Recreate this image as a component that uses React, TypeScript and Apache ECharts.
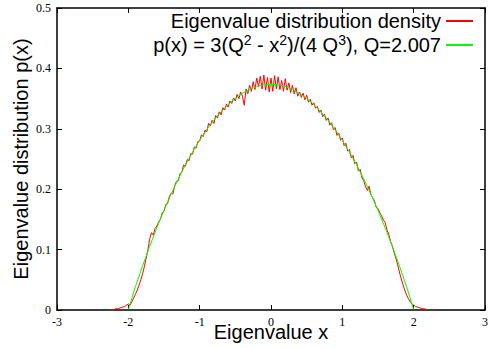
import React, { useEffect, useRef } from "react";
import * as echarts from "echarts";

// Axis ranges / ticks
const X_MIN = -3;
const X_MAX = 3;
const X_INTERVAL = 1;
const Y_MIN = 0;
const Y_MAX = 0.5;
const Y_INTERVAL = 0.1;

// Series names
const RED_NAME = "Eigenvalue distribution density";
const GREEN_NAME = "p(x) = 3(Q^2 - x^2)/(4 Q^3), Q=2.007";

const RED_X_START = -2.3;
const RED_X_STEP = 0.025;
const redValues = [
  0, 0, 0.0005, 0.001, 0.001, 0.002, 0.002, 0.003,
  0.004, 0.005, 0.006, 0.008, 0.010, 0.008, 0.014, 0.020,
  0.026, 0.033, 0.041, 0.050, 0.060, 0.072, 0.086, 0.100,
  0.118, 0.128, 0.124, 0.135, 0.139, 0.146, 0.150, 0.161,
  0.163, 0.175, 0.176, 0.188, 0.193, 0.192, 0.206, 0.213,
  0.214, 0.226, 0.228, 0.240, 0.238, 0.249, 0.247, 0.259,
  0.258, 0.270, 0.268, 0.279, 0.280, 0.290, 0.287, 0.298,
  0.295, 0.309, 0.305, 0.314, 0.309, 0.322, 0.318, 0.328,
  0.323, 0.335, 0.331, 0.341, 0.336, 0.346, 0.342, 0.351,
  0.346, 0.357, 0.350, 0.361, 0.354, 0.339, 0.366, 0.358,
  0.372, 0.362, 0.378, 0.365, 0.384, 0.370, 0.387, 0.366,
  0.389, 0.364, 0.385, 0.361,
  0.384, 0.362, 0.388, 0.366, 0.386, 0.365, 0.380, 0.362,
  0.383, 0.364, 0.376, 0.360, 0.372, 0.358, 0.368, 0.354,
  0.361, 0.352, 0.359, 0.348, 0.356, 0.344, 0.349, 0.339,
  0.343, 0.334, 0.337, 0.327, 0.331, 0.320, 0.324, 0.314,
  0.318, 0.306, 0.310, 0.298, 0.302, 0.289, 0.293, 0.281,
  0.285, 0.272, 0.276, 0.263, 0.266, 0.252, 0.256, 0.242,
  0.245, 0.230, 0.233, 0.219, 0.214, 0.204, 0.198, 0.205,
  0.191, 0.186, 0.181, 0.170, 0.168, 0.161, 0.156, 0.149,
  0.145, 0.133, 0.126, 0.114, 0.106, 0.095, 0.086, 0.075,
  0.063, 0.052, 0.042, 0.033, 0.025, 0.019, 0.014, 0.010,
  0.008, 0.006, 0.005, 0.004, 0.003, 0.002, 0.002, 0.001,
  0.001, 0.0005, 0, 0, 0,
];

// Fitted curve values, x from -2.0 step 0.1
const GREEN_X_START = -2.0;
const GREEN_X_STEP = 0.1;
const greenValues = [
  0.0007, 0.0388, 0.0731, 0.1056, 0.1362, 0.165, 0.1919, 0.2169, 0.2401, 0.2614,
  0.2809, 0.2985, 0.3143, 0.3282, 0.3403, 0.3505, 0.3588, 0.3653, 0.37, 0.3728,
  0.3737,
  0.3728, 0.37, 0.3653, 0.3588, 0.3505, 0.3403, 0.3282, 0.3143, 0.2985, 0.2809,
  0.2614, 0.2401, 0.2169, 0.1919, 0.165, 0.1362, 0.1056, 0.0731, 0.0388, 0.0007,
];

const SANS = "Liberation Sans";
const SERIF = "Liberation Serif";

export default function App() {
  const ref = useRef<HTMLDivElement>(null);

  useEffect(() => {
    if (!ref.current) return;
    const chart = echarts.init(ref.current, undefined, { renderer: "svg" });

    const redData = redValues.map((v, i) => [
      +(RED_X_START + i * RED_X_STEP).toFixed(3),
      v,
    ]);
    const greenData = greenValues.map((v, i) => [
      +(GREEN_X_START + i * GREEN_X_STEP).toFixed(3),
      v,
    ]);

    const axisLine = {
      show: true,
      onZero: false,
      lineStyle: { color: "#000", width: 1.5 },
    };
    const axisTick = {
      show: true,
      inside: true,
      length: 5,
      lineStyle: { color: "#000", width: 1 },
    };

    chart.setOption({
      animation: false,
      backgroundColor: "#fff",
      grid: {
        left: 57,
        right: 5,
        top: 8,
        bottom: 38,
        show: false,
        outerBoundsMode: "none",
      },
      legend: {
        orient: "vertical",
        align: "right",
        right: 16,
        top: 11,
        padding: 0,
        itemGap: 2,
        itemWidth: 27,
        itemHeight: 10,
        itemStyle: { opacity: 0 },
        data: [RED_NAME, GREEN_NAME],
        textStyle: {
          fontFamily: SANS,
          fontSize: 20,
          color: "#000",
          rich: {
            a: { fontFamily: SANS, fontSize: 20, color: "#000", lineHeight: 24 },
            s: {
              fontFamily: SANS,
              fontSize: 14,
              color: "#000",
              lineHeight: 14,
              verticalAlign: "top",
            },
          },
        },
        formatter: (name: string) => {
          if (name === GREEN_NAME) {
            return "{a|p(x) = 3(Q}{s|2}{a| - x}{s|2}{a|)/(4 Q}{s|3}{a|), Q=2.007}";
          }
          return "{a|" + name + "}";
        },
      },
      xAxis: [
        {
          type: "value",
          position: "bottom",
          min: X_MIN,
          max: X_MAX,
          interval: X_INTERVAL,
          name: "Eigenvalue x",
          nameLocation: "middle",
          nameGap: 12,
          nameMoveOverlap: false,
          nameTextStyle: { fontFamily: SANS, fontSize: 20, color: "#000" },
          axisLine,
          axisTick,
          axisLabel: { fontFamily: SERIF, fontSize: 12, color: "#000", margin: 6 },
          splitLine: { show: false },
        },
        {
          type: "value",
          position: "top",
          min: X_MIN,
          max: X_MAX,
          interval: X_INTERVAL,
          axisLine,
          axisTick,
          axisLabel: { show: false },
          splitLine: { show: false },
        },
      ],
      yAxis: [
        {
          type: "value",
          position: "left",
          min: Y_MIN,
          max: Y_MAX,
          interval: Y_INTERVAL,
          name: "Eigenvalue distribution p(x)",
          nameLocation: "middle",
          nameGap: 26,
          nameMoveOverlap: false,
          nameTextStyle: { fontFamily: SANS, fontSize: 20, color: "#000" },
          axisLine,
          axisTick,
          axisLabel: { fontFamily: SERIF, fontSize: 12, color: "#000", margin: 6 },
          splitLine: { show: false },
        },
        {
          type: "value",
          position: "right",
          min: Y_MIN,
          max: Y_MAX,
          interval: Y_INTERVAL,
          axisLine,
          axisTick,
          axisLabel: { show: false },
          splitLine: { show: false },
        },
      ],
      series: [
        {
          name: RED_NAME,
          type: "line",
          xAxisIndex: 0,
          yAxisIndex: 0,
          data: redData,
          symbol: "none",
          lineStyle: { color: "#ff0000", width: 1 },
          itemStyle: { color: "#ff0000" },
        },
        {
          name: GREEN_NAME,
          type: "line",
          xAxisIndex: 0,
          yAxisIndex: 0,
          data: greenData,
          symbol: "none",
          lineStyle: { color: "#00ff00", width: 1 },
          itemStyle: { color: "#00ff00" },
        },
      ],
    });

    return () => chart.dispose();
  }, []);

  return (
    <div
      ref={ref}
      style={{ width: 490, height: 348, position: "absolute", left: 0, top: 0 }}
    />
  );
}
